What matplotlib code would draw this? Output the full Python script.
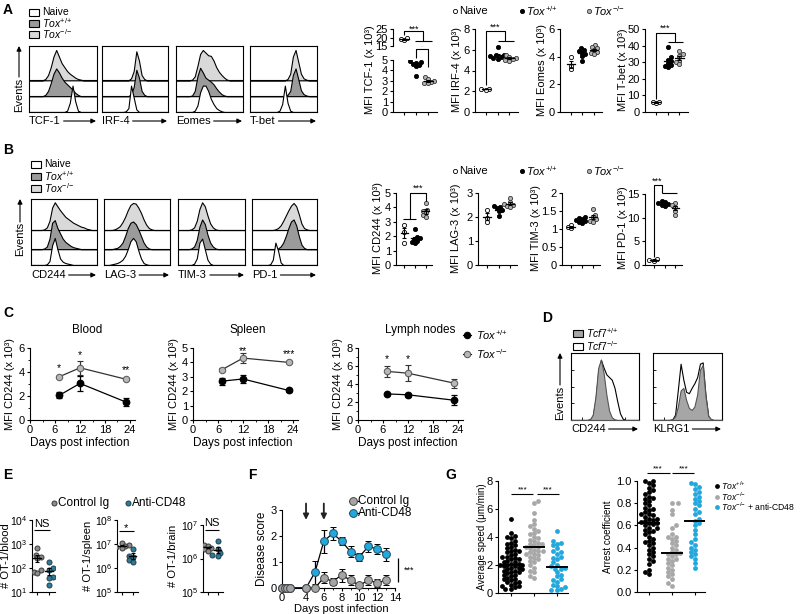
import numpy as np
import matplotlib
matplotlib.use("Agg")
import matplotlib.pyplot as plt
from matplotlib.patches import Rectangle
from matplotlib.ticker import FixedLocator, NullLocator, LogFormatterSciNotation

plt.rcParams['font.family'] = ['Liberation Sans', 'DejaVu Sans']
plt.rcParams['mathtext.fontset'] = 'custom'
plt.rcParams['mathtext.rm'] = 'Liberation Sans'
plt.rcParams['mathtext.it'] = 'Liberation Sans:italic'
plt.rcParams['mathtext.bf'] = 'Liberation Sans:bold'
plt.rcParams['font.size'] = 8
plt.rcParams['axes.linewidth'] = 0.8
for _a in ('x', 'y'):
    plt.rcParams[f'{_a}tick.major.width'] = 0.8
    plt.rcParams[f'{_a}tick.major.size'] = 2.5
    plt.rcParams[f'{_a}tick.minor.width'] = 0.6
    plt.rcParams[f'{_a}tick.minor.size'] = 1.5
    plt.rcParams[f'{_a}tick.major.pad'] = 1.2
    plt.rcParams[f'{_a}tick.labelsize'] = 8

# ======================= DATA =======================
HIST_X = np.linspace(0, 1, 26)  # flow histogram channel grid (fraction of box width)

# Panel A histograms (% of box height above lane baseline)
A_tcf1_ko = [0,0,0,0,0,0,2,8,20,36,46,36,26,20,14,10,7,4,2,1,0,0,0,0,0,0]
A_tcf1_wt = [0,0,0,0,0,0,2,8,20,34,42,36,28,22,18,14,10,5,2,0,0,0,0,0,0,0]
A_tcf1_nv = [0,0,0,0,0,0,0,0,0,0,0,0,0,0,2,14,40,16,2,0,0,0,0,0,0,0]
A_irf4_ko = [0,0,0,0,0,0,0,0,0,0,0,3,14,44,30,8,2,0,0,0,0,0,0,0,0,0]
A_irf4_wt = [0,0,0,0,0,0,0,0,0,0,0,3,14,40,28,8,2,0,0,0,0,0,0,0,0,0]
A_irf4_nv = [0,0,0,0,0,0,0,0,0,1,6,40,22,4,0,0,0,0,0,0,0,0,0,0,0,0]
A_eom_ko = [0,0,0,0,0,0,1,6,22,40,46,42,38,37,30,20,13,8,4,1,0,0,0,0,0,0]
A_eom_wt = [0,0,0,0,0,0,1,8,30,43,36,28,25,22,18,12,7,3,1,0,0,0,0,0,0,0]
A_eom_nv = [0,0,0,0,0,0,0,2,10,30,40,40,32,20,12,6,3,1,0,0,0,0,0,0,0,0]
A_tbet_ko = [0,0,0,0,0,0,0,0,0,0,0,0,0,0,2,10,36,46,28,10,3,1,0,0,0,0]
A_tbet_wt = [0,0,0,0,0,0,0,0,0,0,0,0,0,0,2,8,32,42,26,9,3,1,0,0,0,0]
A_tbet_nv = [0,0,0,0,0,0,0,0,0,0,0,2,12,40,14,2,0,0,0,0,0,0,0,0,0,0]

# Panel B histograms
B_cd244_ko = [0,0,0,0,0,1,4,14,34,42,36,30,25,20,17,14,11,9,7,5,4,2,1,0,0,0]
B_cd244_wt = [0,0,0,0,0,1,4,16,40,44,32,24,16,11,8,5,3,2,1,0,0,0,0,0,0,0]
B_cd244_nv = [0,0,0,0,0,0,1,6,30,41,24,10,5,3,2,1,0,0,0,0,0,0,0,0,0,0]
B_lag3_ko = [0,0,0,0,1,3,6,12,20,30,38,41,40,34,26,16,8,3,1,0,0,0,0,0,0,0]
B_lag3_wt = [0,0,0,0,1,2,5,10,20,32,40,42,38,30,20,10,4,1,0,0,0,0,0,0,0,0]
B_lag3_nv = [0,0,0,1,2,3,5,8,14,24,36,41,36,22,10,3,1,0,0,0,0,0,0,0,0,0]
B_tim3_ko = [0,0,0,0,0,1,4,14,32,42,36,22,10,4,1,0,0,0,0,0,0,0,0,0,0,0]
B_tim3_wt = [0,0,0,0,0,1,4,14,34,45,38,22,10,4,1,0,0,0,0,0,0,0,0,0,0,0]
B_tim3_nv = [0,0,0,0,0,0,2,10,34,40,24,8,2,0,0,0,0,0,0,0,0,0,0,0,0,0]
B_pd1_ko = [0,0,0,0,0,0,0,0,0,1,3,7,14,22,30,37,41,36,24,10,3,1,0,0,0,0]
B_pd1_wt = [0,0,0,0,0,0,0,0,0,0,1,4,10,20,32,42,45,36,20,7,2,0,0,0,0,0]
B_pd1_nv = [0,0,0,0,0,0,0,1,8,34,22,4,0,0,0,0,0,0,0,0,0,0,0,0,0,0]

# Panel D histograms (Tcf7+/+ gray, Tcf7-/- open)
D_cd244_wt = [0,0,0,0,0,0,0,1,8,35,78,90,70,38,14,4,1,0,0,0,0,0,0,0,0,0]
D_cd244_ko = [0,0,0,0,0,0,0,1,6,30,72,90,78,68,64,60,48,28,10,2,0,0,0,0,0,0]
D_klrg1_wt = [0,0,0,0,0,0,0,1,5,20,44,48,30,18,15,20,38,75,82,36,6,1,0,0,0,0]
D_klrg1_ko = [0,0,0,0,0,0,0,1,8,45,84,60,42,40,48,55,64,84,86,38,6,1,0,0,0,0]

# Panel A MFI (x 10^3): naive, Tox+/+, Tox-/-
A_tcf1_naive = [19.5, 18.9, 18.4]
A_tcf1_wtv = [4.9, 4.8, 4.75, 4.65, 4.5, 4.4, 3.5]
A_tcf1_kov = [3.35, 3.15, 3.0, 2.9, 2.8, 2.75]
A_irf4_naive = [2.25, 2.2, 2.15]
A_irf4_wtv = [6.3, 5.5, 5.45, 5.35, 5.3, 5.2, 5.15]
A_irf4_kov = [5.5, 5.3, 5.2, 5.1, 5.0, 4.95]
A_eom_naive = [3.95, 3.35, 3.1]
A_eom_wtv = [4.6, 4.5, 4.4, 4.3, 4.2, 4.05, 3.7]
A_eom_kov = [4.85, 4.7, 4.6, 4.5, 4.35, 4.25, 4.2]
A_tbet_naive = [6.3, 5.8, 5.4]
A_tbet_wtv = [39, 33, 31.5, 30.5, 29.5, 28.5, 27.5, 27]
A_tbet_kov = [37, 35, 33.5, 31, 30, 29]

# Panel B MFI (x 10^3)
B_cd244_naive = [2.8, 2.3, 1.55]
B_cd244_wtv = [2.5, 1.95, 1.85, 1.8, 1.7, 1.6, 1.5]
B_cd244_kov = [4.3, 3.85, 3.75, 3.65, 3.45, 3.3]
B_lag3_naive = [2.3, 1.95, 1.8]
B_lag3_wtv = [2.45, 2.42, 2.38, 2.3, 2.25, 2.05]
B_lag3_kov = [2.8, 2.62, 2.55, 2.5, 2.45, 2.42]
B_tim3_naive = [1.12, 1.06, 1.02]
B_tim3_wtv = [1.32, 1.3, 1.27, 1.25, 1.22, 1.2, 1.18]
B_tim3_kov = [1.55, 1.4, 1.32, 1.27, 1.22, 1.2]
B_pd1_naive = [1.3, 1.0, 0.9]
B_pd1_wtv = [13.6, 13.3, 13.1, 12.9, 12.7, 12.5]
B_pd1_kov = [13.0, 12.6, 12.2, 11.5, 10.6]

# Panel C: MFI CD244 over time
C_days = [7, 12, 23]
C_blood_wt = [2.05, 3.05, 1.5];  C_blood_wt_err = [0.25, 0.65, 0.35]
C_blood_ko = [3.6, 4.35, 3.4];   C_blood_ko_err = [0.1, 0.6, 0.1]
C_spleen_wt = [2.7, 2.85, 2.05]; C_spleen_wt_err = [0.25, 0.3, 0.1]
C_spleen_ko = [3.5, 4.3, 4.0];   C_spleen_ko_err = [0.1, 0.35, 0.05]
C_ln_wt = [2.9, 2.8, 2.2];       C_ln_wt_err = [0.1, 0.2, 0.55]
C_ln_ko = [5.4, 5.2, 4.1];       C_ln_ko_err = [0.6, 0.9, 0.5]
C_blood_sig = ['*', '*', '**'];  C_blood_sig_y = [4.35, 5.45, 4.2]
C_spleen_sig = ['', '**', '***']; C_spleen_sig_y = [0, 4.8, 4.6]
C_ln_sig = ['*', '*', ''];       C_ln_sig_y = [6.8, 6.8, 0]

# Panel E: OT-1 counts
E_blood_ctrl = [680, 350, 300, 250, 80, 70, 63]
E_blood_anti = [183, 100, 83, 43, 38, 20]
E_spleen_ctrl = [1.05e7, 9.5e6, 8.5e6, 8e6, 7.5e6, 7e6]
E_spleen_anti = [6.3e6, 3.3e6, 2.8e6, 2.1e6, 1.8e6]
E_brain_ctrl = [2.6e6, 2.3e6, 2.2e6, 2.1e6, 1.9e6, 1.7e6]
E_brain_anti = [3.3e6, 1.9e6, 1.5e6, 1.26e6, 1.2e6]

# Panel F: disease score
F_days = [0, 1, 2, 3, 4, 5, 6, 7, 8, 9, 10, 11, 12, 13]
F_ctrl = [0, 0, 0, 0, 0, 0, 0.4, 0.25, 0.5, 0.3, 0.1, 0.3, 0.2, 0.3]
F_ctrl_err = [0, 0, 0, 0, 0, 0, 0.2, 0.15, 0.25, 0.2, 0.1, 0.2, 0.15, 0.2]
F_anti = [0, 0, 0, 0, 0, 0.6, 1.8, 2.1, 1.8, 1.4, 1.2, 1.6, 1.5, 1.3]
F_anti_err = [0, 0, 0, 0, 0, 0.45, 0.45, 0.25, 0.15, 0.2, 0.15, 0.2, 0.2, 0.25]
F_xticks = [0, 4, 6, 8, 10, 12, 14]
F_arrow_days = [4, 6]

# Panel G: two-photon motility
G_speed_wt = [5.3, 4.3, 4.1, 4.0, 3.9, 3.7, 3.6, 3.5, 3.4, 3.3, 3.2, 3.1, 3.0, 3.0, 2.9, 2.8,
              2.7, 2.6, 2.6, 2.5, 2.4, 2.4, 2.3, 2.2, 2.2, 2.1, 2.1, 2.0, 2.0, 2.0, 1.9, 1.9,
              1.8, 1.8, 1.7, 1.7, 1.6, 1.6, 1.5, 1.5, 1.4, 1.3, 1.3, 1.2, 1.1, 1.0, 1.0, 0.9,
              0.8, 0.8, 0.7, 0.6, 0.5, 0.5, 0.4, 0.3, 0.3]
G_speed_ko = [6.6, 6.4, 5.7, 5.2, 4.9, 4.8, 4.6, 4.4, 4.3, 4.2, 4.0, 3.9, 3.8, 3.7, 3.6, 3.5,
              3.5, 3.4, 3.3, 3.3, 3.2, 3.1, 3.0, 3.0, 2.9, 2.8, 2.8, 2.7, 2.6, 2.5, 2.4, 2.3,
              2.2, 2.0, 1.8, 1.6, 1.5, 1.2, 1.1]
G_speed_anti = [4.4, 3.7, 3.6, 3.5, 3.4, 3.2, 3.0, 2.9, 2.8, 2.6, 2.5, 2.4, 2.2, 2.0, 1.9,
                1.8, 1.75, 1.7, 1.5, 1.3, 1.2, 1.0, 0.9, 0.8, 0.6, 0.5, 0.4, 0.3, 0.2, 0.2]
G_arrest_wt = [1.0, 1.0, 0.98, 0.96, 0.94, 0.92, 0.9, 0.88, 0.86, 0.85, 0.84, 0.82, 0.8, 0.78,
               0.76, 0.75, 0.74, 0.72, 0.7, 0.7, 0.69, 0.68, 0.66, 0.66, 0.65, 0.64, 0.63, 0.62,
               0.62, 0.61, 0.6, 0.58, 0.58, 0.56, 0.55, 0.54, 0.52, 0.5, 0.48, 0.46, 0.45,
               0.44, 0.42, 0.4, 0.38, 0.36, 0.34, 0.32, 0.3, 0.28, 0.25, 0.2, 0.18, 0.16]
G_arrest_ko = [0.8, 0.8, 0.74, 0.7, 0.6, 0.58, 0.52, 0.5, 0.5, 0.48, 0.46, 0.44, 0.42, 0.4,
               0.38, 0.36, 0.35, 0.34, 0.34, 0.32, 0.3, 0.3, 0.28, 0.26, 0.24, 0.22, 0.2,
               0.18, 0.16, 0.14, 0.12, 0.08, 0.05]
G_arrest_anti = [0.98, 0.97, 0.95, 0.93, 0.9, 0.88, 0.86, 0.84, 0.82, 0.8, 0.78, 0.75, 0.72,
                 0.7, 0.66, 0.64, 0.62, 0.6, 0.56, 0.52, 0.48, 0.45, 0.42, 0.4, 0.38, 0.36,
                 0.34, 0.32, 0.3, 0.26, 0.22]

# ======================= STYLE =======================
HC_KO, HC_WT, HC_NV = '#d9d9d9', '#9b9b9b', 'white'
DOT_STY = [('white', 'k'), ('k', 'k'), ('#b5b5b5', '#333333')]
CYAN = '#23a8de'
TEAL = '#2d7b96'
TOX_WT = r'$\mathit{Tox}^{{+}/{+}}$'
TOX_KO = r'$\mathit{Tox}^{{-}/{-}}$'

W, H = 800, 614
fig = plt.figure(figsize=(W / 100, H / 100), dpi=100)
ov = fig.add_axes([0, 0, 1, 1], zorder=10)
ov.set_xlim(0, W); ov.set_ylim(H, 0); ov.axis('off'); ov.patch.set_visible(False)
REN = fig.canvas.get_renderer()


def ax_px(x0, y0, x1, y1):
    return fig.add_axes([x0 / W, 1 - y1 / H, (x1 - x0) / W, (y1 - y0) / H])


def clean(ax):
    ax.spines['top'].set_visible(False)
    ax.spines['right'].set_visible(False)


def arrow(xy_from, xy_to, lw=0.8, ms=7):
    ov.annotate('', xy=xy_to, xytext=xy_from,
                arrowprops=dict(arrowstyle='-|>', color='k', lw=lw, mutation_scale=ms,
                                shrinkA=0, shrinkB=0))


def label_arrow(x0, x1, y, label):
    t = ov.text(x0, y, label, ha='left', va='center', fontsize=8)
    bb = t.get_window_extent(renderer=REN)
    arrow((bb.x1 + 3, y), (x1, y))


def events(x, yc, y_from, y_to):
    ov.text(x, yc, 'Events', rotation=90, ha='center', va='center', fontsize=8)
    arrow((x, y_from), (x, y_to))


def hist_panel(box, curves, bases, colors, edges):
    ax = ax_px(*box)
    ax.set_xlim(0, 1); ax.set_ylim(0, 100)
    ax.set_xticks([]); ax.set_yticks([])
    for z, (vals, base, col, ec) in enumerate(zip(curves, bases, colors, edges)):
        if base > 0:
            ax.axhline(base, color='k', lw=0.8, zorder=2 + 2 * z)
        ax.fill_between(HIST_X, base, base + np.asarray(vals, float), facecolor=col,
                        edgecolor=ec, lw=0.8, zorder=3 + 2 * z)
    return ax


def swarm(vals, center, ppu_y, ppu_x, d):
    vals = np.asarray(vals, float)
    order = np.argsort(vals)
    px_l, py_l = [], []
    offs = np.zeros(len(vals))
    step = d * 0.45
    for n, i in enumerate(order):
        y = vals[i] * ppu_y
        k = 0
        while True:
            cands = [0.0] if k == 0 else ([k * step, -k * step] if n % 2 == 0 else [-k * step, k * step])
            ok = None
            for c in cands:
                if all((c - a) ** 2 + (y - b) ** 2 >= (d * 0.92) ** 2 for a, b in zip(px_l, py_l)):
                    ok = c
                    break
            if ok is not None:
                break
            k += 1
        px_l.append(ok); py_l.append(y)
        offs[i] = ok
    return center + offs / ppu_x


def dot_axes(box, ylim, xlim, yticks, yticklabels=None, bottom=True):
    ax = ax_px(*box)
    ax.set_xlim(*xlim); ax.set_ylim(*ylim)
    clean(ax)
    ax.set_yticks(yticks)
    if yticklabels is not None:
        ax.set_yticklabels(yticklabels)
    if bottom:
        ax.set_xticks([1, 2, 3]); ax.set_xticklabels([])
        ax.tick_params(axis='x', length=2.5)
    else:
        ax.spines['bottom'].set_visible(False)
        ax.set_xticks([])
    return ax


def dots(ax, box, ylim, xlim, groups, d=3.4, s=9, hw=0.36):
    ppu_y = (box[3] - box[1]) / (ylim[1] - ylim[0])
    ppu_x = (box[2] - box[0]) / (xlim[1] - xlim[0])
    for gi, (vals, (fc, ec)) in enumerate(zip(groups, DOT_STY)):
        v = np.asarray(vals, float)
        xs = swarm(v, GP[gi], ppu_y, ppu_x, d)
        ax.scatter(xs, v, s=s, facecolor=fc, edgecolor=ec, lw=0.6, zorder=3)
        m = v.mean(); se = v.std(ddof=1) / np.sqrt(len(v))
        ax.plot([GP[gi] - hw, GP[gi] + hw], [m, m], color='k', lw=0.9, zorder=4)
        ax.errorbar([GP[gi]], [m], yerr=[se], fmt='none', ecolor='k', elinewidth=0.8,
                    capsize=1.5, capthick=0.8, zorder=4)


def poly(ax, pts, lw=0.8):
    xs, ys = zip(*pts)
    ax.plot(xs, ys, color='k', lw=lw, clip_on=False, zorder=5, solid_capstyle='butt')


def stars(ax, x, y, s, size=6.5):
    ax.text(x, y, s, ha='center', va='center', fontsize=size, clip_on=False)


GP = [1, 2, 3]

# ======================= PANEL LETTERS =======================
for letter, (lx, ly) in {'A': (3, 10), 'B': (3, 150), 'C': (3, 313), 'D': (542, 318),
                         'E': (3, 475), 'F': (248, 475), 'G': (445, 475)}.items():
    ov.text(lx, ly, letter, fontsize=10, fontweight='bold', ha='left', va='center')

# ======================= A / B histograms =======================
def hist_legend(x, ys):
    for y, fc, lab in zip(ys, [HC_NV, HC_WT, HC_KO], ['Naive', TOX_WT, TOX_KO]):
        ov.add_patch(Rectangle((x, y - 3), 10, 6.5, facecolor=fc, edgecolor='k', lw=0.8))
        ov.text(x + 13, y, lab, ha='left', va='center', fontsize=7.5)


hist_legend(29, [12, 23, 34])
hist_legend(31, [164, 176, 188])

A_boxes = [(29, 46, 97, 112), (102, 46, 168, 112), (176, 46, 243, 112), (250, 46, 317, 112)]
A_curves = [(A_tcf1_ko, A_tcf1_wt, A_tcf1_nv), (A_irf4_ko, A_irf4_wt, A_irf4_nv),
            (A_eom_ko, A_eom_wt, A_eom_nv), (A_tbet_ko, A_tbet_wt, A_tbet_nv)]
A_labels = ['TCF-1', 'IRF-4', 'Eomes', 'T-bet']
for box, cv, lab in zip(A_boxes, A_curves, A_labels):
    hist_panel(box, cv, [48, 24, 0], [HC_KO, HC_WT, HC_NV], ['k', 'k', 'k'])
    label_arrow(box[0], box[2] - 1, 121, lab)
events(19, 95, 77, 46)

B_boxes = [(31, 199, 97, 265), (104, 199, 170, 265), (178, 199, 245, 265), (252, 199, 317, 265)]
B_curves = [(B_cd244_ko, B_cd244_wt, B_cd244_nv), (B_lag3_ko, B_lag3_wt, B_lag3_nv),
            (B_tim3_ko, B_tim3_wt, B_tim3_nv), (B_pd1_ko, B_pd1_wt, B_pd1_nv)]
B_labels = ['CD244', 'LAG-3', 'TIM-3', 'PD-1']
for box, cv, lab in zip(B_boxes, B_curves, B_labels):
    hist_panel(box, cv, [53, 24, 0], [HC_KO, HC_WT, HC_NV], ['k', 'k', 'k'])
    label_arrow(box[0], box[2] - 1, 275, lab)
events(20, 239, 222, 199)

# ======================= A / B dot plots =======================
def dot_legend(y):
    for x, (fc, ec), lab in zip([455, 522, 589], DOT_STY, ['Naive', TOX_WT, TOX_KO]):
        ov.scatter([x], [y], s=9, facecolor=fc, edgecolor=ec, lw=0.6)
        ov.text(x + 4, y, lab, ha='left', va='center', fontsize=8)


dot_legend(11)
dot_legend(171)

XL_A = (0.06, 3.73)
# TCF-1 broken axis
bl = (393, 60, 437, 112); bu = (393, 29, 437, 46)
axl = dot_axes(bl, (0, 5), XL_A, [0, 1, 2, 3, 4, 5])
axu = dot_axes(bu, (15, 25), XL_A, [15, 20, 25], bottom=False)
grp = [A_tcf1_naive, A_tcf1_wtv, A_tcf1_kov]
dots(axl, bl, (0, 5), XL_A, grp)
dots(axu, bu, (15, 25), XL_A, grp)
poly(axu, [(1, 21.5), (1, 23.8), (2.55, 23.8), (2.55, 17.9)])
poly(axu, [(1.9, 17.9), (3.3, 17.9)])
stars(axu, 1.78, 25.0, '***')
poly(axl, [(2, 5.2), (2, 6.06), (3, 6.06), (3, 4.3)])
stars(axl, 2.5, 6.3, '**')
ov.text(370, 70, 'MFI TCF-1 (x 10³)', rotation=90, ha='center', va='center', fontsize=8)

# IRF-4
b = (475, 29, 518, 112)
ax = dot_axes(b, (0, 8), XL_A, [0, 2, 4, 6, 8])
dots(ax, b, (0, 8), XL_A, [A_irf4_naive, A_irf4_wtv, A_irf4_kov])
poly(ax, [(1, 2.6), (1, 7.8), (2.6, 7.8), (2.6, 6.8)])
poly(ax, [(2.0, 6.8), (3.4, 6.8)])
stars(ax, 1.8, 8.2, '***')
ov.text(457, 70, 'MFI IRF-4 (x 10³)', rotation=90, ha='center', va='center', fontsize=8)

# Eomes
b = (560, 29, 602, 112)
ax = dot_axes(b, (0, 6), XL_A, [0, 2, 4, 6])
dots(ax, b, (0, 6), XL_A, [A_eom_naive, A_eom_wtv, A_eom_kov])
ov.text(542, 70, 'MFI Eomes (x 10³)', rotation=90, ha='center', va='center', fontsize=8)

# T-bet
b = (645, 29, 688, 112)
ax = dot_axes(b, (0, 50), XL_A, [0, 10, 20, 30, 40, 50])
dots(ax, b, (0, 50), XL_A, [A_tbet_naive, A_tbet_wtv, A_tbet_kov])
poly(ax, [(1, 8), (1, 47.6), (2.6, 47.6), (2.6, 42)])
poly(ax, [(2.0, 42), (3.3, 42)])
stars(ax, 1.8, 50.5, '***')
ov.text(623, 70, 'MFI T-bet (x 10³)', rotation=90, ha='center', va='center', fontsize=8)

XL_B = (0.2, 3.6)
b = (396, 193, 432, 265)
ax = dot_axes(b, (0, 5), XL_B, [0, 1, 2, 3, 4, 5])
dots(ax, b, (0, 5), XL_B, [B_cd244_naive, B_cd244_wtv, B_cd244_kov])
poly(ax, [(0.9, 3.2), (2.1, 3.2)])
poly(ax, [(1.5, 3.2), (1.5, 5.0), (3, 5.0), (3, 4.45)])
stars(ax, 2.25, 5.3, '***')
ov.text(378, 228, 'MFI CD244 (x 10³)', rotation=90, ha='center', va='center', fontsize=8)

b = (478, 193, 517, 265)
ax = dot_axes(b, (0, 3), XL_B, [0, 1, 2, 3])
dots(ax, b, (0, 3), XL_B, [B_lag3_naive, B_lag3_wtv, B_lag3_kov])
ov.text(456, 228, 'MFI LAG-3 (x 10³)', rotation=90, ha='center', va='center', fontsize=8)

b = (562, 193, 600, 265)
ax = dot_axes(b, (0, 2), XL_B, [0, 0.5, 1, 1.5, 2], ['0', '0.5', '1', '1.5', '2'])
dots(ax, b, (0, 2), XL_B, [B_tim3_naive, B_tim3_wtv, B_tim3_kov])
ov.text(536, 228, 'MFI TIM-3 (x 10³)', rotation=90, ha='center', va='center', fontsize=8)

b = (645, 194, 682, 265)
ax = dot_axes(b, (0, 15), XL_B, [0, 5, 10, 15])
dots(ax, b, (0, 15), XL_B, [B_pd1_naive, B_pd1_wtv, B_pd1_kov])
poly(ax, [(1, 1.6), (1, 16.9), (1.75, 16.9), (1.75, 15.2)])
poly(ax, [(1.75, 15.2), (3.1, 15.2)])
stars(ax, 1.35, 17.6, '***')
ov.text(623, 228, 'MFI PD-1 (x 10³)', rotation=90, ha='center', va='center', fontsize=8)

# ======================= C =======================
def time_panel(box, ylim, yticks, yminor, wt, wte, ko, koe, sig, sig_y, title, tx, ylx):
    ax = ax_px(*box)
    ax.set_xlim(0, 25.2); ax.set_ylim(*ylim)
    clean(ax)
    ax.set_xticks([0, 6, 12, 18, 24])
    ax.xaxis.set_minor_locator(FixedLocator([3, 9, 15, 21]))
    ax.set_yticks(yticks)
    ax.yaxis.set_minor_locator(FixedLocator(yminor))
    ax.errorbar(C_days, ko, yerr=koe, color='#333333', lw=0.9, marker='o', ms=4.6,
                mfc='#b8b8b8', mec='#606060', mew=0.8, capsize=2, capthick=0.9, elinewidth=0.9, zorder=3)
    ax.errorbar(C_days, wt, yerr=wte, color='k', lw=0.9, marker='o', ms=4.6,
                mfc='k', mec='k', capsize=2, capthick=0.9, elinewidth=0.9, zorder=4)
    for d, s, yy in zip(C_days, sig, sig_y):
        if s:
            stars(ax, d, yy, s, size=7.5)
    ov.text(tx, 330, title, ha='center', va='center', fontsize=8.5)
    ov.text((box[0] + box[0] + 100) / 2, 443, 'Days post infection', ha='center', va='center', fontsize=8.5)
    ov.text(ylx, 384, 'MFI CD244 (x 10³)', rotation=90, ha='center', va='center', fontsize=8)
    return ax


time_panel((30, 348, 135, 420), (0, 6), [0, 2, 4, 6], [1, 3, 5], C_blood_wt, C_blood_wt_err,
           C_blood_ko, C_blood_ko_err, C_blood_sig, C_blood_sig_y, 'Blood', 87, 10)
time_panel((193, 348, 298, 420), (0, 5), [0, 1, 2, 3, 4, 5], [], C_spleen_wt, C_spleen_wt_err,
           C_spleen_ko, C_spleen_ko_err, C_spleen_sig, C_spleen_sig_y, 'Spleen', 248, 174)
time_panel((358, 348, 463, 420), (0, 8), [0, 2, 4, 6, 8], [1, 3, 5, 7], C_ln_wt, C_ln_wt_err,
           C_ln_ko, C_ln_ko_err, C_ln_sig, C_ln_sig_y, 'Lymph nodes', 420, 338)
for y, fc, ec, lab in [(335, 'k', 'k', TOX_WT), (354, '#b8b8b8', '#606060', TOX_KO)]:
    ov.plot([463, 471], [y, y], color='k', lw=0.8)
    ov.plot([467], [y], marker='o', ms=4.6, mfc=fc, mec=ec, mew=0.8)
    ov.text(476, y, lab, ha='left', va='center', fontsize=8)

# ======================= D =======================
for y, fc, lab in [(333, '#a6a6a6', r'$\mathit{Tcf7}^{{+}/{+}}$'), (346, 'white', r'$\mathit{Tcf7}^{{-}/{-}}$')]:
    ov.add_patch(Rectangle((573, y - 3), 10, 6.5, facecolor=fc, edgecolor='k', lw=0.8))
    ov.text(586, y, lab, ha='left', va='center', fontsize=7.5)
for box, wt, ko, lab in [((571, 353, 639, 420), D_cd244_wt, D_cd244_ko, 'CD244'),
                         ((653, 353, 722, 420), D_klrg1_wt, D_klrg1_ko, 'KLRG1')]:
    ax = hist_panel(box, [ko, wt], [0, 0], ['white', '#a6a6a6'], ['k', '#555555'])
    ax.set_xticks([0.16, 0.38, 0.6, 0.8]); ax.set_yticks([25, 50, 75])
    ax.tick_params(direction='in', length=2, labelbottom=False, labelleft=False, width=0.6)
    label_arrow(box[0], box[2] - 1, 429, lab)
events(560, 403, 385, 353)

# ======================= E =======================
ov.scatter([54], [503], s=13, facecolor='#8c8c8c', edgecolor='#3a3a3a', lw=0.7)
ov.text(58, 503, 'Control Ig', ha='left', va='center', fontsize=8.5)
ov.scatter([128], [503], s=13, facecolor=TEAL, edgecolor='#1d3f4d', lw=0.7)
ov.text(132, 503, 'Anti-CD48', ha='left', va='center', fontsize=8.5)


def e_panel(box, ylim, ctrl, anti, sig, sig_y, line_y, ylab, ylx):
    xlim = (0.55, 2.5)
    ax = ax_px(*box)
    ax.set_yscale('log'); ax.set_ylim(*ylim); ax.set_xlim(*xlim)
    clean(ax)
    lo, hi = int(round(np.log10(ylim[0]))), int(round(np.log10(ylim[1])))
    ax.yaxis.set_major_locator(FixedLocator([10.0 ** k for k in range(lo, hi + 1)]))
    ax.yaxis.set_major_formatter(LogFormatterSciNotation())
    ax.yaxis.set_minor_locator(NullLocator())
    ax.tick_params(axis='y', labelsize=7.5, pad=0.8)
    ax.set_xticks([1, 2]); ax.set_xticklabels([])
    ppu_y = (box[3] - box[1]) / (hi - lo)
    ppu_x = (box[2] - box[0]) / (xlim[1] - xlim[0])
    for gi, (vals, fc, ec) in enumerate([(ctrl, '#8c8c8c', '#3a3a3a'), (anti, TEAL, '#1d3f4d')]):
        v = np.asarray(vals, float)
        xs = swarm(np.log10(v), gi + 1, ppu_y, ppu_x, 4.0)
        ax.scatter(xs, v, s=13, facecolor=fc, edgecolor=ec, lw=0.7, zorder=3)
        m = v.mean(); se = v.std(ddof=1) / np.sqrt(len(v))
        ax.plot([gi + 1 - 0.35, gi + 1 + 0.35], [m, m], color='k', lw=1.0, zorder=4)
        ax.errorbar([gi + 1], [m], yerr=[se], fmt='none', ecolor='k', elinewidth=0.8,
                    capsize=1.5, capthick=0.8, zorder=4)
    poly(ax, [(0.75, line_y), (2.1, line_y)])
    ax.text(1.42, sig_y, sig, ha='center', va='center', fontsize=8, clip_on=False)
    ov.text(ylx, 556, ylab, rotation=90, ha='center', va='center', fontsize=8)


e_panel((32, 520, 55, 592), (1e1, 1e4), E_blood_ctrl, E_blood_anti, 'NS', 10 ** 3.85, 10 ** 3.58,
        '# OT-1/blood', 6)
e_panel((117, 520, 138, 592), (1e5, 1e8), E_spleen_ctrl, E_spleen_anti, '*', 10 ** 7.68, 10 ** 7.55,
        '# OT-1/spleen', 88)
e_panel((203, 525, 223, 592), (1e5, 1e7), E_brain_ctrl, E_brain_anti, 'NS', 10 ** 7.05, 10 ** 6.85,
        '# OT-1/brain', 173)

# ======================= F =======================
def f_fwd(d):
    d = np.asarray(d, float)
    return np.where(d <= 3, d * 0.3, np.where(d <= 4, 0.9 + (d - 3) * 1.8, 2.7 + (d - 4)))


def f_inv(p):
    p = np.asarray(p, float)
    return np.where(p <= 0.9, p / 0.3, np.where(p <= 2.7, 3 + (p - 0.9) / 1.8, 4 + (p - 2.7)))


axF = ax_px(282, 510, 395, 588)
axF.set_xscale('function', functions=(f_fwd, f_inv))
axF.set_xlim(0, 14); axF.set_ylim(0, 3)
clean(axF)
axF.xaxis.set_major_locator(FixedLocator(F_xticks))
axF.xaxis.set_minor_locator(FixedLocator([5, 7, 9, 11, 13]))
axF.set_xticklabels([str(t) for t in F_xticks])
axF.tick_params(axis='x', pad=0.8)
axF.yaxis.set_major_locator(FixedLocator([0, 1, 2, 3]))
axF.yaxis.set_minor_locator(NullLocator())
axF.errorbar(F_days, F_anti, yerr=F_anti_err, color='k', lw=0.9, marker='o', ms=5.6,
             mfc=CYAN, mec='#1d4c63', mew=0.7, capsize=2.2, capthick=0.9, elinewidth=0.9,
             zorder=3, clip_on=False)
axF.errorbar(F_days, F_ctrl, yerr=F_ctrl_err, color='k', lw=0.9, marker='o', ms=5.6,
             mfc='#a5a5a5', mec='#444444', mew=0.7, capsize=2.2, capthick=0.9, elinewidth=0.9,
             zorder=4, clip_on=False)
for d in F_arrow_days:
    axF.annotate('', xy=(d, 2.62), xytext=(d, 3.25),
                 arrowprops=dict(arrowstyle='-|>', color='#222222', lw=1.3, mutation_scale=8,
                                 shrinkA=0, shrinkB=0), annotation_clip=False)
poly(axF, [(14.3, 0.25), (14.3, 1.15)], lw=0.9)
axF.text(15.0, 0.7, '***', ha='left', va='center', fontsize=6.5, clip_on=False)
ov.text(262, 549, 'Disease score', rotation=90, ha='center', va='center', fontsize=8.5)
ov.text(341, 608.5, 'Days post infection', ha='center', va='center', fontsize=8)
for y, fc, ec, lab in [(501, '#a5a5a5', '#444444', 'Control Ig'), (513, CYAN, '#1d4c63', 'Anti-CD48')]:
    ov.plot([349, 359], [y, y], color='k', lw=0.8)
    ov.plot([353], [y], marker='o', ms=5.6, mfc=fc, mec=ec, mew=0.7)
    ov.text(358, y, lab, ha='left', va='center', fontsize=8.5)

# ======================= G =======================
G_COLS = ['k', '#a8a8a8', CYAN]


def g_panel(box, ylim, xlim, groups, yticks, ylabels, sig_y, spans, star_x, ylab, ylx):
    ax = ax_px(*box)
    ax.set_xlim(*xlim); ax.set_ylim(*ylim)
    clean(ax)
    ax.set_xticks([1, 2, 3]); ax.set_xticklabels([])
    ax.set_yticks(yticks); ax.set_yticklabels(ylabels)
    ppu_y = (box[3] - box[1]) / (ylim[1] - ylim[0])
    ppu_x = (box[2] - box[0]) / (xlim[1] - xlim[0])
    for gi, (vals, col) in enumerate(zip(groups, G_COLS)):
        v = np.asarray(vals, float)
        xs = swarm(v, gi + 1, ppu_y, ppu_x, 4.2)
        ax.scatter(xs, v, s=12, color=col, lw=0, zorder=3, clip_on=False)
        med = np.median(v)
        ax.plot([gi + 1 - 0.42, gi + 1 + 0.42], [med, med], color='k', lw=1.4, zorder=4)
    for (a, b), sx in zip(spans, star_x):
        poly(ax, [(a, sig_y), (b, sig_y)])
        stars(ax, sx, sig_y + (ylim[1] - ylim[0]) * 0.035, '***', size=6)
    ov.text(ylx, 537, ylab, rotation=90, ha='center', va='center', fontsize=7)


g_panel((498, 481, 568, 593), (0, 8), (0.43, 3.48), [G_speed_wt, G_speed_ko, G_speed_anti],
        [0, 2, 4, 6, 8], ['0', '2', '4', '6', '8'], 7.05, [(1.0, 1.97), (2.14, 3.1)], [1.5, 2.6],
        'Average speed (μm/min)', 482)
g_panel((637, 481, 705, 592), (0, 1.0), (0.48, 3.43), [G_arrest_wt, G_arrest_ko, G_arrest_anti],
        [0, 0.2, 0.4, 0.6, 0.8, 1.0], ['0.0', '0.2', '0.4', '0.6', '0.8', '1.0'], 1.07,
        [(0.9, 1.9), (2.0, 2.95)], [1.4, 2.5], 'Arrest coefficient', 608)
for y, col, lab in [(486, 'k', TOX_WT), (496.5, '#a8a8a8', TOX_KO), (507, CYAN, TOX_KO + ' + anti-CD48')]:
    ov.scatter([717], [y], s=12, color=col, lw=0)
    ov.text(721, y, lab, ha='left', va='center', fontsize=6.2)

fig.savefig('out.png', dpi=100)
